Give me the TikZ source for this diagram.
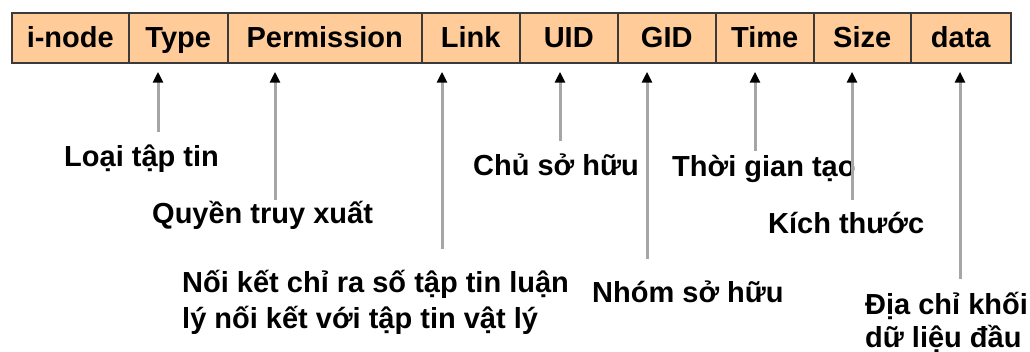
\documentclass[tikz,border=0pt]{standalone}
\usepackage{fontspec}
\setmainfont{Liberation Sans}
\usetikzlibrary{arrows.meta}
\definecolor{cellfill}{HTML}{FFCC99}
\definecolor{cellborder}{HTML}{3A3A3A}
\definecolor{stem}{HTML}{A6A6A6}
\begin{document}
\begin{tikzpicture}[x=1pt,y=-1pt,
  cell/.style={draw=cellborder, line width=1.5pt, fill=cellfill, minimum height=50pt,
    inner sep=0pt, text height=20pt, text depth=0pt,
    font=\fontsize{29}{34}\selectfont\bfseries, anchor=west},
  lbl/.style={anchor=base west, inner sep=0pt, font=\fontsize{29}{34}\selectfont\bfseries},
  ptr/.style={draw=stem, line width=3pt, -{Triangle[length=11pt,width=10pt,color=black]}}]
\useasboundingbox (0,0) rectangle (1030,352);
\node[cell, minimum width=117pt] (inode) at (11,38)  {i-node};
\node[cell, minimum width=99pt]  (type)  at (128,38) {Type};
\node[cell, minimum width=194pt] (perm)  at (227,38) {Permission};
\node[cell, minimum width=98pt]  (link)  at (421,38) {Link};
\node[cell, minimum width=98pt]  (uid)   at (519,38) {UID};
\node[cell, minimum width=98pt]  (gid)   at (617,38) {GID};
\node[cell, minimum width=98pt]  (time)  at (715,38) {Time};
\node[cell, minimum width=97pt]  (size)  at (813,38) {Size};
\node[cell, minimum width=100pt] (data)  at (910,38) {data};

\node[lbl] (lType) at (64,167) {Loại tập tin};
\node[lbl] (lPerm) at (152,224) {Quyền truy xuất};
\node[lbl] (lLinkA) at (182,293) {Nối kết chỉ ra số tập tin luận};
\node[lbl] (lLinkB) at (182,328) {lý nối kết với tập tin vật lý};
\node[lbl] (lUid) at (473,176) {Chủ sở hữu};
\node[lbl] (lTime) at (672,177) {Thời gian tạo};
\node[lbl] (lSize) at (768,234) {Kích thước};
\node[lbl] (lGid) at (592,303) {Nhóm sở hữu};
\node[lbl] (lDataA) at (865,315) {Địa chỉ khối};
\node[lbl] (lDataB) at (865,348) {dữ liệu đầu};

\coordinate (eType) at (158,132);
\coordinate (ePerm) at (275,200);
\coordinate (eLink) at (442,249);
\coordinate (eUid)  at (560,141);
\coordinate (eGid)  at (647,259);
\coordinate (eTime) at (755,151);
\coordinate (eSize) at (852,200);
\coordinate (eData) at (960,279);

\draw[ptr] (eType) -- ([yshift=-8pt]eType |- type.south);
\draw[ptr] (ePerm) -- ([yshift=-8pt]ePerm |- perm.south);
\draw[ptr] (eLink) -- ([yshift=-8pt]eLink |- link.south);
\draw[ptr] (eUid)  -- ([yshift=-8pt]eUid |- uid.south);
\draw[ptr] (eGid)  -- ([yshift=-8pt]eGid |- gid.south);
\draw[ptr] (eTime) -- ([yshift=-8pt]eTime |- time.south);
\draw[ptr] (eSize) -- ([yshift=-8pt]eSize |- size.south);
\draw[ptr] (eData) -- ([yshift=-8pt]eData |- data.south);
\end{tikzpicture}
\end{document}
